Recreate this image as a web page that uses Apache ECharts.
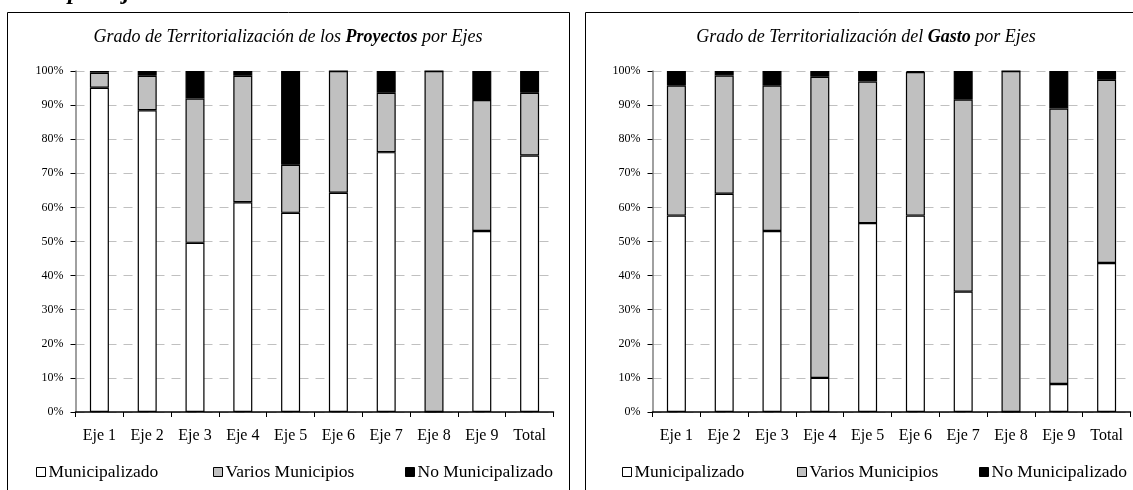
<!DOCTYPE html>
<html>
<head>
<meta charset="utf-8">
<script src="https://cdn.jsdelivr.net/npm/echarts@6/dist/echarts.min.js"></script>
<style>
html,body{margin:0;padding:0;background:#fff;}
#c{width:1133px;height:490px;}
</style>
</head>
<body>
<div id="c"></div>
<script>
var categories = ['Eje 1','Eje 2','Eje 3','Eje 4','Eje 5','Eje 6','Eje 7','Eje 8','Eje 9','Total'];
var seriesNames = ['Municipalizado','Varios Municipios','No Municipalizado'];
var yTicks = [0,10,20,30,40,50,60,70,80,90,100];

var proyMunicipal = [95.1, 88.5, 49.6, 61.5, 58.4, 64.3, 76.2, 0, 53.1, 75.2];
var proyVarios    = [4.4, 10.1, 42.3, 37.1, 14.1, 35.7, 17.4, 100, 38.4, 18.4];
var proyNo        = [0.5, 1.4, 8.1, 1.4, 27.5, 0, 6.4, 0, 8.5, 6.4];

var gastoMunicipal = [57.6, 64.0, 53.1, 10.0, 55.4, 57.6, 35.3, 0, 8.2, 43.7];
var gastoVarios    = [38.1, 34.7, 42.6, 88.3, 41.5, 42.1, 56.3, 100, 80.8, 53.7];
var gastoNo        = [4.3, 1.3, 4.3, 1.7, 3.1, 0.3, 8.4, 0, 11.0, 2.6];

var titleLeft = ['Grado de Territorialización de los ', 'Proyectos', ' por Ejes'];
var titleRight = ['Grado de Territorialización del ', 'Gasto', ' por Ejes'];
var headingCut = 'Metas por Ejes';

var FONT = 'Liberation Serif';
var colors = ['#ffffff', '#c0c0c0', '#000000'];

function xAxisCfg(idx) {
  return {
    type: 'category', gridIndex: idx, data: categories,
    axisLine: {lineStyle: {color: '#000', width: 1.5}},
    axisTick: {show: true, length: 5, inside: false, lineStyle: {color: '#000'}},
    axisLabel: {fontFamily: FONT, fontSize: 16, color: '#000', margin: 16, interval: 0}
  };
}
function yAxisCfg(idx) {
  return {
    type: 'value', gridIndex: idx, min: yTicks[0], max: yTicks[yTicks.length-1], interval: yTicks[1]-yTicks[0],
    axisLine: {show: true, lineStyle: {color: '#808080', width: 1.5}},
    axisTick: {show: true, length: 5, lineStyle: {color: '#000'}},
    axisLabel: {fontFamily: FONT, fontSize: 12, color: '#000', margin: 12, formatter: '{value}%'},
    splitLine: {show: true, lineStyle: {color: '#c0c0c0', type: [9, 7], width: 1}}
  };
}
function barSeries(name, data, idx, color) {
  return {
    name: name, type: 'bar', stack: 's' + idx, xAxisIndex: idx, yAxisIndex: idx,
    data: data, barWidth: 19,
    itemStyle: {color: color, borderColor: '#000', borderWidth: 1.2},
    emphasis: {disabled: true}
  };
}
function legendItem(name, left) {
  var ts = {fontFamily: FONT, fontSize: 17.5, fontStyle: 'normal', color: '#000', padding: [0,0,0,-2]};
  return {
    left: left, top: 463, data: [{name: name, textStyle: ts}], icon: 'rect', itemWidth: 9, itemHeight: 9,
    itemStyle: {borderColor: '#000', borderWidth: 1},
    textStyle: ts,
    selectedMode: false, padding: 0
  };
}
function titleText(parts, x) {
  return {
    type: 'text', x: x, y: 37, silent: true,
    style: {
      text: '{i|' + parts[0] + '}{b|' + parts[1] + '}{i|' + parts[2] + '}',
      align: 'center', verticalAlign: 'middle',
      rich: {
        i: {fontFamily: FONT, fontStyle: 'italic', fontSize: 18, fill: '#000', color: '#000'},
        b: {fontFamily: FONT, fontStyle: 'italic', fontWeight: 'bold', fontSize: 18, fill: '#000', color: '#000'}
      }
    }
  };
}

var chart = echarts.init(document.getElementById('c'), null, {renderer: 'canvas'});
chart.setOption({
  animation: false,
  backgroundColor: '#fff',
  textStyle: {fontFamily: FONT},
  color: colors,
  grid: [
    {left: 75.5, top: 71, width: 478, height: 341},
    {left: 652.5, top: 71, width: 478, height: 341}
  ],
  xAxis: [xAxisCfg(0), xAxisCfg(1)],
  yAxis: [yAxisCfg(0), yAxisCfg(1)],
  legend: [
    legendItem(seriesNames[0], 36), legendItem(seriesNames[1], 213), legendItem(seriesNames[2], 405),
    legendItem(seriesNames[0], 622), legendItem(seriesNames[1], 797), legendItem(seriesNames[2], 979)
  ],
  series: [
    barSeries(seriesNames[0], proyMunicipal, 0, colors[0]),
    barSeries(seriesNames[1], proyVarios, 0, colors[1]),
    barSeries(seriesNames[2], proyNo, 0, colors[2]),
    barSeries(seriesNames[0], gastoMunicipal, 1, colors[0]),
    barSeries(seriesNames[1], gastoVarios, 1, colors[1]),
    barSeries(seriesNames[2], gastoNo, 1, colors[2])
  ],
  graphic: [
    {type: 'rect', silent: true, shape: {x: 7.5, y: 12.5, width: 562, height: 520},
      style: {fill: 'none', stroke: '#000', lineWidth: 1}},
    {type: 'rect', silent: true, shape: {x: 585.5, y: 12.5, width: 600, height: 520},
      style: {fill: 'none', stroke: '#000', lineWidth: 1}},
    titleText(titleLeft, 288),
    titleText(titleRight, 866),
    {type: 'text', x: 2, y: -7, silent: true,
      style: {text: headingCut, fontFamily: FONT, fontStyle: 'italic', fontWeight: 'bold', fontSize: 24,
        fill: '#000', align: 'left', verticalAlign: 'middle'}}
  ]
});
</script>
</body>
</html>
